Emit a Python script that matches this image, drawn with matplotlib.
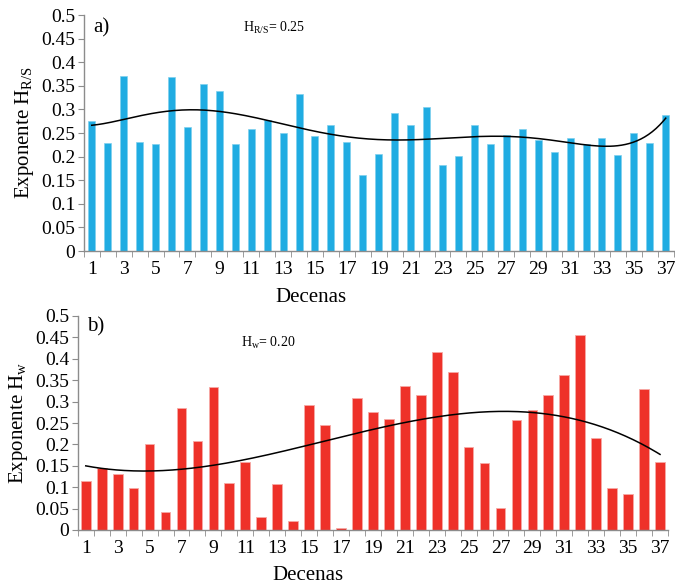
import numpy as np
import matplotlib
matplotlib.use("Agg")
import matplotlib.pyplot as plt
from matplotlib.ticker import FixedLocator, NullFormatter, FormatStrFormatter

plt.rcParams['font.family'] = ['Liberation Serif', 'DejaVu Serif']
plt.rcParams['mathtext.fontset'] = 'custom'
plt.rcParams['mathtext.rm'] = 'Liberation Serif'
plt.rcParams['mathtext.it'] = 'Liberation Serif:italic'

# ---- data ----
decenas = list(range(1, 38))

h_rs = [0.275, 0.229, 0.370, 0.231, 0.227, 0.368, 0.262, 0.353, 0.338, 0.227,
        0.258, 0.278, 0.249, 0.333, 0.244, 0.266, 0.231, 0.161, 0.205, 0.292,
        0.268, 0.305, 0.182, 0.201, 0.268, 0.227, 0.245, 0.258, 0.235, 0.210,
        0.240, 0.227, 0.240, 0.203, 0.251, 0.229, 0.288]

h_w = [0.115, 0.145, 0.131, 0.097, 0.202, 0.041, 0.284, 0.209, 0.334, 0.109,
       0.160, 0.030, 0.107, 0.021, 0.291, 0.245, 0.004, 0.308, 0.276, 0.259,
       0.336, 0.315, 0.417, 0.369, 0.195, 0.156, 0.051, 0.256, 0.280, 0.315,
       0.361, 0.456, 0.215, 0.097, 0.085, 0.330, 0.160]

yticks = [0, 0.05, 0.1, 0.15, 0.2, 0.25, 0.3, 0.35, 0.4, 0.45, 0.5]
xticks = [d for d in decenas if d % 2 == 1]

BLUE = '#20ACE2'
RED = '#EE3129'
GRAY = '#8C8C8C'

W, H = 675, 588
fig = plt.figure(figsize=(W / 100, H / 100), dpi=100)


def px_axes(left, top, right, bottom):
    return fig.add_axes([left / W, 1 - bottom / H, (right - left) / W, (bottom - top) / H])


def style_axis(ax):
    for s in ['top', 'right']:
        ax.spines[s].set_visible(False)
    for s in ['left', 'bottom']:
        ax.spines[s].set_color(GRAY)
        ax.spines[s].set_linewidth(1.0)
    ax.set_xlim(0.5, 37.5)
    ax.set_ylim(0, 0.5)
    ax.yaxis.set_major_locator(FixedLocator(yticks))
    ax.yaxis.set_major_formatter(FormatStrFormatter('%g'))
    ax.xaxis.set_major_locator(FixedLocator(xticks))
    ax.xaxis.set_major_formatter(FormatStrFormatter('%d'))
    ax.xaxis.set_minor_locator(FixedLocator(np.arange(0.5, 38, 1.0)))
    ax.xaxis.set_minor_formatter(NullFormatter())
    ax.tick_params(axis='x', which='major', length=0, labelsize=14, pad=7)
    ax.tick_params(axis='x', which='minor', length=4, color=GRAY, direction='out')
    ax.tick_params(axis='y', which='major', length=4, color=GRAY, labelsize=14, pad=2)


def trend(ax, y, order):
    x = np.array(decenas, dtype=float)
    coef = np.polyfit(x, np.array(y), order)
    xs = np.linspace(1, 37, 300)
    ax.plot(xs, np.polyval(coef, xs), color='black', lw=1.1)


# ---- panel a ----
ax1 = px_axes(83.8, 15, 673.7, 251)
ax1.bar(decenas, h_rs, width=0.44, color=BLUE, edgecolor='#7FD0EE', linewidth=0.5)
trend(ax1, h_rs, 6)
style_axis(ax1)
ax1.set_ylabel(r'Exponente H$_{\mathrm{R/S}}$', fontsize=15, labelpad=4)
ax1.set_xlabel('Decenas', fontsize=15)
ax1.xaxis.set_label_coords((311 - 83.8) / (673.7 - 83.8), -0.158)
fig.text(93 / W, 1 - 28 / H, 'a)', fontsize=15, va='center', ha='left')
fig.text(243 / W, 1 - 28 / H, r'H$_{\mathrm{R/S}}$= 0.25', fontsize=10, va='center', ha='left')

# ---- panel b ----
ax2 = px_axes(77.8, 316, 668, 530)
ax2.bar(decenas, h_w, width=0.61, color=RED, edgecolor='#F7A9A5', linewidth=0.6)
trend(ax2, h_w, 3)
style_axis(ax2)
ax2.set_ylabel(r'Exponente H$_{\mathrm{w}}$', fontsize=15, labelpad=4)
ax2.set_xlabel('Decenas', fontsize=15)
ax2.xaxis.set_label_coords((308 - 77.8) / (668 - 77.8), -0.17)
fig.text(87 / W, 1 - 327 / H, 'b)', fontsize=15, va='center', ha='left')
fig.text(241 / W, 1 - 343 / H, r'H$_{\mathrm{w}}$= 0.20', fontsize=10, va='center', ha='left')

fig.savefig('out.png', dpi=100)
